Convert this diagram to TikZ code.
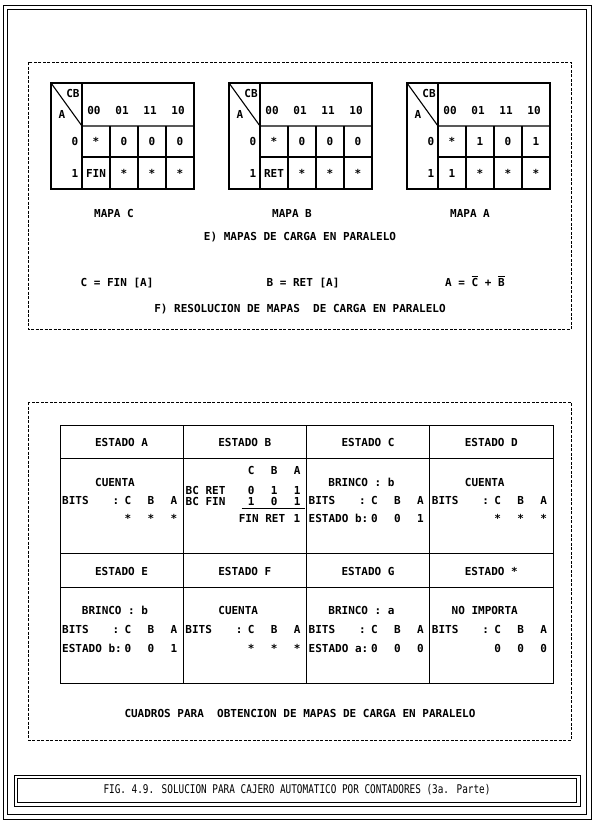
\documentclass[tikz,border=0pt]{standalone}
\usepackage{fontspec}
\setmonofont{DejaVu Sans Mono}
\newfontfamily\piefont[FakeStretch=0.78]{DejaVu Sans Mono}
\usepackage{tikz}
\usetikzlibrary{positioning, calc}

\tikzstyle{marco} = [line width=0.9pt]
\tikzstyle{borde} = [line width=0.9pt, dash pattern=on 3pt off 1.5pt]
\tikzstyle{linea} = [line width=1.1pt]
\tikzstyle{tabla} = [line width=0.8pt]
\tikzstyle{txt} = [inner sep=0pt, text height=8pt, text depth=0pt,
  font=\ttfamily\bfseries\fontsize{11}{12}\selectfont]
\tikzstyle{pie} = [inner sep=0pt, font=\piefont\fontsize{12}{13}\selectfont]
\newcommand{\negado}[1]{$\overline{\mbox{#1}}$}

\begin{document}
\begin{tikzpicture}[x=1pt, y=-1pt]
  \useasboundingbox (0,0) rectangle (595,823);
  % Marco doble
  \draw[marco] (3,5) rectangle (591,819);
  \draw[marco] (7.5,9.5) rectangle (586.5,814.5);

  % E) Mapas de carga en paralelo
  \draw[borde] (28,62) rectangle (571,329);
  \foreach \nom/\xo/\ra/\rb/\rc/\rd in {C/51/0/0/0/FIN, B/229/0/0/0/RET, A/407/1/0/1/1} {
    \draw[linea] (\xo,83) rectangle ++(143,106);
    \draw[linea] (\xo,83) -- ++(31,43) -- ++(112,0);
    \draw[linea] (\xo+31,83) -- (\xo+31,189);
    \draw[linea] (\xo+31,157) -- (\xo+143,157);
    \foreach \k in {1,2,3}
      \draw[linea] (\xo+31+28*\k,126) -- (\xo+31+28*\k,189);
    \node[txt] (cb\nom) at (\xo+22,93) {CB};
    \node[txt] (a\nom) at (\xo+11,114) {A};
    \foreach \h [count=\i from 0] in {00,01,11,10}
      \node[txt] (h\nom\i) at (\xo+43+28*\i,110) {\h};
    \node[txt] (f0\nom) at (\xo+24,141) {0};
    \node[txt] (f1\nom) at (\xo+24,173) {1};
    \foreach \v [count=\i from 0] in {*,\ra,\rb,\rc}
      \node[txt] (m\nom0\i) at (\xo+45+28*\i,141) {\v};
    \foreach \v [count=\i from 0] in {\rd,*,*,*}
      \node[txt] (m\nom1\i) at (\xo+45+28*\i,173) {\v};
    \node[txt] (mapa\nom) at (\xo+63,213) {MAPA \nom};
  }
  \node[txt] (tituloE) at (300,236) {E) MAPAS DE CARGA EN PARALELO};

  % F) Resolucion
  \node[txt] (ecC) at (117,282) {C = FIN [A]};
  \node[txt] (ecB) at (303,282) {B = RET [A]};
  \node[txt] (ecA) at (475,282) {A = \negado{C} + \negado{B}};
  \node[txt] (tituloF) at (300,308) {F) RESOLUCION DE MAPAS\ \ DE CARGA EN PARALELO};

  % Cuadros de estados
  \draw[borde] (28,402) rectangle (571,740);
  \draw[tabla] (60,425) rectangle (553,683);
  \draw[tabla] (60,458) -- (553,458) (60,553) -- (553,553) (60,587) -- (553,587);
  \foreach \k in {1,2,3}
    \draw[tabla] (60+123.25*\k,425) -- (60+123.25*\k,683);
  \foreach \e [count=\i from 0] in {A,B,C,D}
    \node[txt] (cab1\i) at (121.6+123.25*\i,442) {ESTADO \e};
  \foreach \e [count=\i from 0] in {E,F,G,*}
    \node[txt] (cab2\i) at (121.6+123.25*\i,571) {ESTADO \e};
  \foreach \col/\y/\t in {0/482/CUENTA, 2/482/BRINCO : b, 3/482/CUENTA,
      0/610/BRINCO : b, 1/610/CUENTA, 2/610/BRINCO : a, 3/610/NO IMPORTA}
    \node[txt] (tipo\col\y) at (115+123.25*\col,\y) {\t};
  \foreach \col/\y in {0/500, 2/500, 3/500, 0/629, 1/629, 2/629, 3/629} {
    \node[txt, anchor=west] (bits\col\y) at (62+123.25*\col,\y) {BITS};
    \node[txt] (dp\col\y) at (116+123.25*\col,\y) {:};
  }
  \foreach \col/\y/\vc/\vb/\va in {0/500/C/B/A, 2/500/C/B/A, 3/500/C/B/A,
      0/629/C/B/A, 1/629/C/B/A, 2/629/C/B/A, 3/629/C/B/A, 1/470/C/B/A,
      0/518/*/*/*, 2/518/0/0/1, 3/518/*/*/*, 1/490/0/1/1, 1/501/1/0/1,
      0/648/0/0/1, 1/648/*/*/*, 2/648/0/0/0, 3/648/0/0/0} {
    \node[txt] (vc\col\y) at (128+123.25*\col,\y) {\vc};
    \node[txt] (vb\col\y) at (151+123.25*\col,\y) {\vb};
    \node[txt] (va\col\y) at (174+123.25*\col,\y) {\va};
  }
  \node[txt, anchor=west] (bcret) at (185.5,490) {BC RET};
  \node[txt, anchor=west] (bcfin) at (185.5,501) {BC FIN};
  \draw[tabla] ([xshift=-6pt,yshift=-3pt]vc1501.south west) -- ([xshift=4pt,yshift=-3pt]va1501.south east);
  \node[txt] (finret) at (262,518) {FIN RET};
  \node[txt] (finuno) at (297,518) {1};
  \node[txt, anchor=west] (estb1) at (308.5,518) {ESTADO b:};
  \node[txt, anchor=west] (estb2) at (62,648) {ESTADO b:};
  \node[txt, anchor=west] (esta) at (308.5,648) {ESTADO a:};
  \node[txt] (cuadros) at (300,713) {CUADROS PARA\ \ OBTENCION DE MAPAS DE CARGA EN PARALELO};

  % Pie de figura
  \draw[marco] (14,775) rectangle (580,806);
  \draw[marco] (17.5,778.5) rectangle (576.5,802.5);
  \node[pie] (pie) at (297,790) {FIG. 4.9. SOLUCION PARA CAJERO AUTOMATICO POR CONTADORES (3a. Parte)};
\end{tikzpicture}
\end{document}
